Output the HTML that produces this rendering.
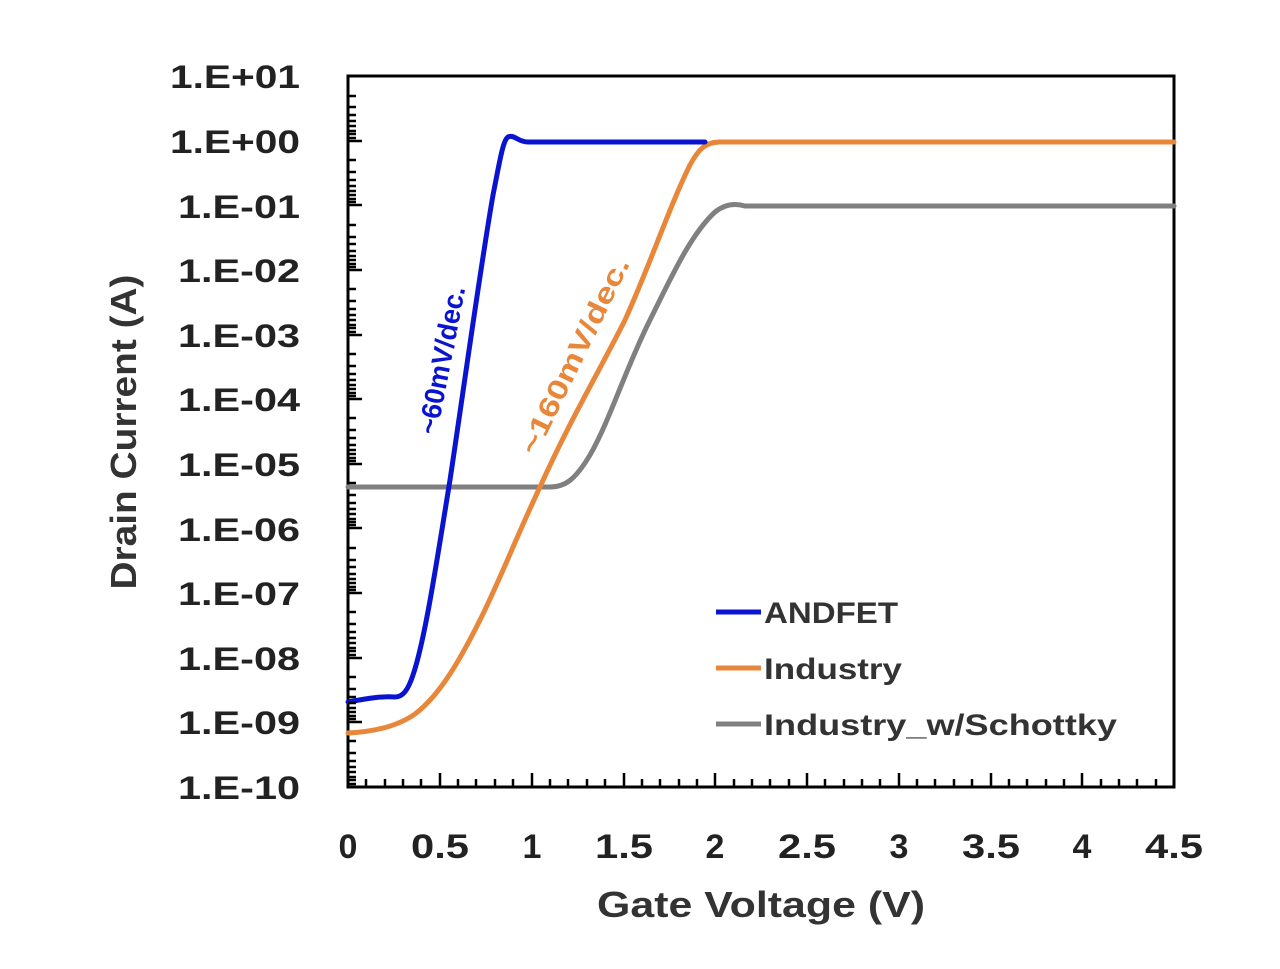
<!DOCTYPE html>
<html><head><style>body{margin:0;background:#fff}</style></head><body>
<svg width="1280" height="964" xmlns="http://www.w3.org/2000/svg" font-family="Liberation Sans, sans-serif" font-weight="bold">
<rect width="1280" height="964" fill="#fff"/>
<rect x="348" y="76" width="826" height="711" fill="none" stroke="#000" stroke-width="3"/>
<g font-size="32" text-anchor="end" fill="#222" lengthAdjust="spacingAndGlyphs">
<text x="300" y="88" textLength="130" lengthAdjust="spacingAndGlyphs">1.E+01</text><text x="300" y="153" textLength="130" lengthAdjust="spacingAndGlyphs">1.E+00</text><text x="300" y="218" textLength="122" lengthAdjust="spacingAndGlyphs">1.E-01</text><text x="300" y="282" textLength="122" lengthAdjust="spacingAndGlyphs">1.E-02</text><text x="300" y="347" textLength="122" lengthAdjust="spacingAndGlyphs">1.E-03</text><text x="300" y="411" textLength="122" lengthAdjust="spacingAndGlyphs">1.E-04</text><text x="300" y="476" textLength="122" lengthAdjust="spacingAndGlyphs">1.E-05</text><text x="300" y="541" textLength="122" lengthAdjust="spacingAndGlyphs">1.E-06</text><text x="300" y="605" textLength="122" lengthAdjust="spacingAndGlyphs">1.E-07</text><text x="300" y="670" textLength="122" lengthAdjust="spacingAndGlyphs">1.E-08</text><text x="300" y="734" textLength="122" lengthAdjust="spacingAndGlyphs">1.E-09</text><text x="300" y="799" textLength="122" lengthAdjust="spacingAndGlyphs">1.E-10</text>
</g>
<g font-size="34" text-anchor="middle" fill="#222">
<text x="348" y="858">0</text><text x="440" y="858" textLength="58" lengthAdjust="spacingAndGlyphs">0.5</text><text x="532" y="858">1</text><text x="624" y="858" textLength="58" lengthAdjust="spacingAndGlyphs">1.5</text><text x="715" y="858">2</text><text x="807" y="858" textLength="58" lengthAdjust="spacingAndGlyphs">2.5</text><text x="899" y="858">3</text><text x="991" y="858" textLength="58" lengthAdjust="spacingAndGlyphs">3.5</text><text x="1082" y="858">4</text><text x="1174" y="858" textLength="58" lengthAdjust="spacingAndGlyphs">4.5</text>
</g>
<text x="761" y="917" font-size="36" text-anchor="middle" fill="#333" textLength="328" lengthAdjust="spacingAndGlyphs">Gate Voltage (V)</text>
<text transform="translate(136,432) rotate(-90)" font-size="36" text-anchor="middle" fill="#333" textLength="315" lengthAdjust="spacingAndGlyphs">Drain Current (A)</text>
<g fill="none" stroke-width="5" stroke-linejoin="round" stroke-linecap="round">
<path stroke="#808080" d="M348,487 L550,487 C565,487 575,480 590,455 C610,420 625,370 650,320 C670,280 690,235 715,212 C725,204 735,203 745,206 L1174,206"/>
<path stroke="#e8873a" d="M348,733 C370,732 395,728 415,714 C440,695 460,660 480,620 C500,580 515,540 540,487 C570,420 600,370 625,320 C650,265 670,205 690,165 C698,150 705,142 720,142 L1174,142"/>
<path stroke="#0a14d0" d="M348,702 C365,699 380,696 395,697 C403,697 408,690 413,675 C425,640 437,560 450,480 C465,380 480,270 493,195 C500,160 503,140 508,137 C514,134 518,142 528,142 L705,142"/>
</g>
<text transform="translate(451,362) rotate(-79)" font-size="28" text-anchor="middle" fill="#0a14d0" textLength="150" lengthAdjust="spacingAndGlyphs">~60mV/dec.</text>
<text transform="translate(583,360) rotate(-64)" font-size="28" text-anchor="middle" fill="#e8873a" textLength="215" lengthAdjust="spacingAndGlyphs">~160mV/dec.</text>
<g stroke-width="5">
<line x1="716" y1="612" x2="761" y2="612" stroke="#0a14d0"/>
<line x1="716" y1="668" x2="761" y2="668" stroke="#e8873a"/>
<line x1="716" y1="724" x2="761" y2="724" stroke="#808080"/>
</g>
<g font-size="30" fill="#333">
<text x="764" y="623" textLength="134" lengthAdjust="spacingAndGlyphs">ANDFET</text><text x="764" y="679" textLength="138" lengthAdjust="spacingAndGlyphs">Industry</text><text x="764" y="735" textLength="353" lengthAdjust="spacingAndGlyphs">Industry_w/Schottky</text>
</g>
<g stroke="#000" stroke-width="2.5">
<path d="M348,141h14M348,205h14M348,270h14M348,335h14M348,399h14M348,464h14M348,528h14M348,593h14M348,658h14M348,722h14"/>
<path d="M348,96h8M348,107h8M348,115h8M348,121h8M348,126h8M348,131h8M348,134h8M348,138h8
M348,160h8M348,172h8M348,180h8M348,186h8M348,191h8M348,195h8M348,199h8M348,202h8
M348,225h8M348,237h8M348,244h8M348,251h8M348,256h8M348,260h8M348,264h8M348,267h8
M348,289h8M348,301h8M348,309h8M348,315h8M348,320h8M348,325h8M348,328h8M348,332h8
M348,354h8M348,366h8M348,374h8M348,380h8M348,385h8M348,389h8M348,393h8M348,396h8
M348,418h8M348,430h8M348,438h8M348,445h8M348,450h8M348,454h8M348,458h8M348,461h8
M348,483h8M348,495h8M348,503h8M348,509h8M348,514h8M348,519h8M348,522h8M348,525h8
M348,548h8M348,560h8M348,567h8M348,574h8M348,579h8M348,583h8M348,587h8M348,590h8
M348,612h8M348,624h8M348,632h8M348,638h8M348,643h8M348,648h8M348,651h8M348,655h8
M348,677h8M348,689h8M348,697h8M348,703h8M348,708h8M348,712h8M348,716h8M348,719h8
M348,741h8M348,753h8M348,761h8M348,767h8M348,772h8M348,777h8M348,780h8M348,784h8"/>
<path d="M366,787v-8M385,787v-8M403,787v-8M421,787v-8M440,787v-14M458,787v-8M476,787v-8M495,787v-8M513,787v-8M532,787v-14M550,787v-8M568,787v-8M587,787v-8M605,787v-8M624,787v-14M642,787v-8M660,787v-8M679,787v-8M697,787v-8M715,787v-14M734,787v-8M752,787v-8M770,787v-8M789,787v-8M807,787v-14M825,787v-8M844,787v-8M862,787v-8M880,787v-8M899,787v-14M917,787v-8M935,787v-8M954,787v-8M972,787v-8M991,787v-14M1009,787v-8M1027,787v-8M1046,787v-8M1064,787v-8M1082,787v-14M1101,787v-8M1119,787v-8M1137,787v-8M1156,787v-8"/>
</g>
</svg>
</body></html>
